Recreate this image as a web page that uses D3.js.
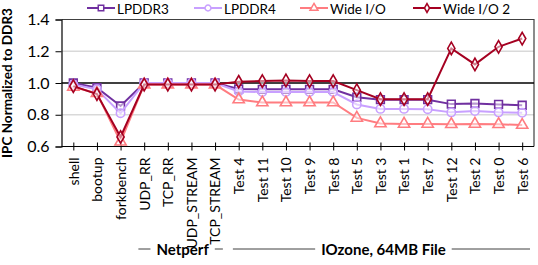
<!DOCTYPE html>
<html>
<head>
<meta charset="utf-8">
<script src="https://cdn.jsdelivr.net/npm/d3@7"></script>
<style>
  body { margin: 0; background: #fff; }
  text { font-family: Lato, "Open Sans", sans-serif; fill: #000; }
</style>
</head>
<body>
<svg></svg>
<script>
const width = 538;
const height = 265;

const categories = ['shell', 'bootup', 'forkbench', 'UDP_RR', 'TCP_RR', 'UDP_STREAM', 'TCP_STREAM',
    'Test 4', 'Test 11', 'Test 10', 'Test 9', 'Test 8', 'Test 5', 'Test 3', 'Test 1', 'Test 7',
    'Test 12', 'Test 2', 'Test 0', 'Test 6'];
const lpddr3 = [1.0, 0.97, 0.855, 1.0, 1.0, 1.0, 1.0,
    0.962, 0.96, 0.96, 0.96, 0.96, 0.91, 0.895, 0.895, 0.895, 0.867, 0.871, 0.865, 0.86];
const lpddr4 = [0.99, 0.96, 0.81, 1.0, 1.0, 1.0, 1.0,
    0.947, 0.943, 0.943, 0.943, 0.943, 0.865, 0.837, 0.837, 0.835, 0.815, 0.823, 0.815, 0.812];
const wideIO = [0.975, 0.935, 0.63, 0.99, 0.99, 0.99, 0.99,
    0.896, 0.877, 0.877, 0.877, 0.877, 0.78, 0.745, 0.742, 0.742, 0.74, 0.742, 0.74, 0.735];
const wideIO2 = [0.98, 0.93, 0.66, 0.99, 0.99, 0.99, 0.99,
    1.008, 1.012, 1.016, 1.012, 1.012, 0.955, 0.898, 0.898, 0.898, 1.218, 1.117, 1.228, 1.28];
const yTicks = [0.6, 0.8, 1.0, 1.2, 1.4];
const groups = [
    {name: 'Netperf', from: 'UDP_RR', to: 'TCP_STREAM'},
    {name: 'IOzone, 64MB File', from: 'Test 4', to: 'Test 6'}
];

const series = [
    {name: 'LPDDR3', values: lpddr3, color: '#7030a0', symbol: d3.symbolSquare, size: 60},
    {name: 'LPDDR4', values: lpddr4, color: '#c8a0ff', symbol: d3.symbolCircle, size: 55},
    {name: 'Wide I/O', values: wideIO, color: '#ff7c80', symbol: d3.symbolTriangle, size: 55},
    {name: 'Wide I/O 2', values: wideIO2, color: '#a50021', symbol: d3.symbolDiamond, size: 45}
];

const plotLeft = 61.5, plotRight = 534, plotTop = 19.5, plotBottom = 146.5;

const svg = d3.select('svg').attr('width', width).attr('height', height);

const x = d3.scalePoint().domain(categories).range([plotLeft, plotRight]).padding(0.5);
const y = d3.scaleLinear().domain([0.6, 1.4]).range([plotBottom, plotTop]);

// grid
svg.append('g')
    .selectAll('line')
    .data(yTicks.filter(d => d !== 0.6 && d !== 1.4 && d !== 1.0))
    .enter().append('line')
    .attr('x1', plotLeft).attr('x2', plotRight)
    .attr('y1', d => y(d)).attr('y2', d => y(d))
    .style('stroke', '#d9d9d9')
    .style('stroke-width', 1.5);

// frame top/right
svg.append('path')
    .attr('d', `M${plotLeft},${plotTop}H${plotRight}V${plotBottom}`)
    .style('fill', 'none')
    .style('stroke', '#404040')
    .style('stroke-width', 1.2);

// reference line at 1.0
svg.append('line')
    .attr('x1', plotLeft).attr('x2', plotRight)
    .attr('y1', y(1)).attr('y2', y(1))
    .style('stroke', '#000')
    .style('stroke-width', 1.5);

// y axis
const yAxis = svg.append('g')
    .attr('transform', `translate(${plotLeft},0)`)
    .call(d3.axisLeft(y).tickValues(yTicks).tickFormat(d3.format('.1f')).tickSize(6).tickPadding(6));
yAxis.select('.domain').style('stroke', '#000').style('stroke-width', 1.2);
yAxis.selectAll('.tick line').style('stroke', '#000');
yAxis.selectAll('text').style('font-size', '16px').style('font-family', 'Lato, sans-serif');

// x axis
const xAxis = svg.append('g')
    .attr('transform', `translate(0,${plotBottom})`)
    .call(d3.axisBottom(x).tickSize(4).tickSizeOuter(0));
xAxis.select('.domain').attr('d', `M${plotLeft},0H${plotRight}`).style('stroke', '#000').style('stroke-width', 1.2);
xAxis.selectAll('.tick line').attr('y1', -4).attr('y2', 4).style('stroke', '#000');
xAxis.selectAll('.tick text')
    .attr('transform', 'rotate(-90)')
    .attr('x', -11).attr('y', 0).attr('dy', '0.35em')
    .style('text-anchor', 'end')
    .style('font-size', '14px')
    .style('font-family', 'Lato, sans-serif');

// series
const line = d3.line().x((d, i) => x(categories[i])).y(d => y(d));
series.forEach(s => {
    const g = svg.append('g');
    g.append('path')
        .datum(s.values)
        .attr('d', line)
        .style('fill', 'none')
        .style('stroke', s.color)
        .style('stroke-width', 2);
    g.selectAll('path.pt')
        .data(s.values)
        .enter().append('path')
        .attr('class', 'pt')
        .attr('transform', (d, i) => `translate(${x(categories[i])},${y(d)})`)
        .attr('d', d3.symbol().type(s.symbol).size(s.size))
        .style('fill', '#fff')
        .style('fill-opacity', 0.5)
        .style('stroke', s.color)
        .style('stroke-width', 1.6);
});

// legend
const legendX = [87, 194, 300, 413];
series.forEach((s, i) => {
    const g = svg.append('g').attr('transform', `translate(${legendX[i]},8)`);
    g.append('line').attr('x1', 0).attr('x2', 28).style('stroke', s.color).style('stroke-width', 2);
    g.append('path')
        .attr('transform', 'translate(14,0)')
        .attr('d', d3.symbol().type(s.symbol).size(s.size * 0.5))
        .style('fill', '#fff')
        .style('stroke', s.color)
        .style('stroke-width', 1.5);
    g.append('text')
        .attr('x', 30).attr('y', 5.5)
        .style('font-size', '13.5px')
        .text(s.name);
});

// y label
svg.append('text')
    .attr('transform', `translate(12,${(plotTop + plotBottom) / 2}) rotate(-90)`)
    .style('text-anchor', 'middle')
    .style('font-size', '13.5px')
    .style('font-weight', 'bold')
    .text('IPC Normalized to DDR3');

// group labels
const step = x.step();
groups.forEach(gr => {
    const x0 = x(gr.from) - step / 2 + 6;
    const x1 = x(gr.to) + step / 2 - 4;
    const cx = (x(gr.from) + x(gr.to)) / 2 + 3;
    const t = svg.append('text')
        .attr('x', cx).attr('y', 255)
        .style('text-anchor', 'middle')
        .style('font-size', '15px')
        .style('font-weight', 'bold')
        .text(gr.name);
    const w = t.node().getComputedTextLength();
    [[x0, cx - w / 2 - 6], [cx + w / 2 + 6, x1]].forEach(([a, b]) => {
        svg.append('line')
            .attr('x1', a).attr('x2', b)
            .attr('y1', 249).attr('y2', 249)
            .style('stroke', '#404040')
            .style('stroke-width', 1);
    });
});
</script>
</body>
</html>
